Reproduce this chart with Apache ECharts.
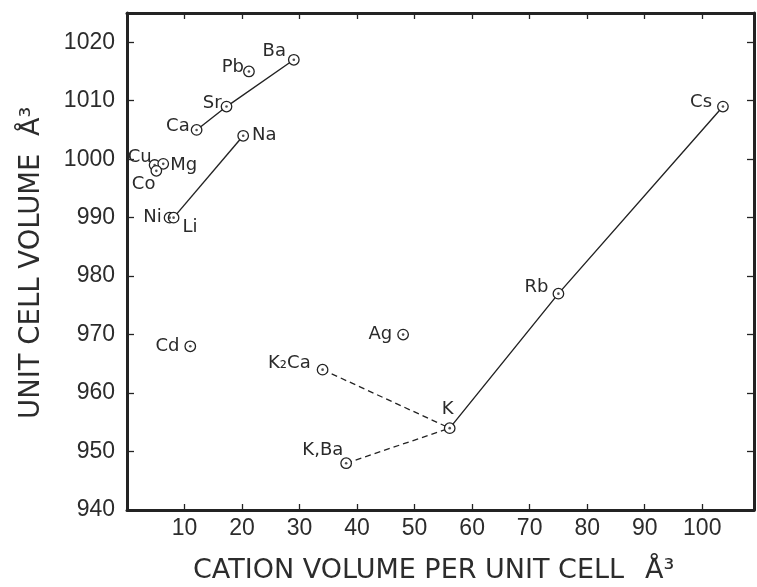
<!DOCTYPE html>
<html>
<head>
<meta charset="utf-8">
<script src="https://cdn.jsdelivr.net/npm/echarts@6/dist/echarts.min.js"></script>
<style>
html,body{margin:0;padding:0;background:#fff;}
#chart{width:757px;height:587px;}
</style>
</head>
<body>
<div id="chart"></div>
<script>
// ---- data ----
const names = ['Ba','Pb','Sr','Ca','Na','Cu','Mg','Co','Ni','Li','Cd','Ag','K₂Ca','K,Ba','K','Rb','Cs'];
const cationVolume = [29.0, 21.2, 17.3, 12.1, 20.2, 4.8, 6.3, 5.1, 7.4, 8.1, 11.0, 48.0, 34.0, 38.1, 56.1, 75.0, 103.6];
const cellVolume = [1017, 1015, 1009, 1005, 1004, 999.0, 999.2, 998.0, 990, 990, 968, 970, 964, 948, 954, 977, 1009];
const solidLinks = [['Ca','Sr','Ba'], ['Li','Na'], ['K','Rb','Cs']];
const dashedLinks = [['K₂Ca','K'], ['K,Ba','K']];
const xTicks = [10,20,30,40,50,60,70,80,90,100];
const yTicks = [940,950,960,970,980,990,1000,1010,1020];
const xTitle = 'CATION VOLUME PER UNIT CELL';
const yTitle = 'UNIT CELL VOLUME';
const unit = 'Å³';

// ---- label placement (styling) ----
const labelPlace = {
  'Ba':['left',[3,-8]], 'Pb':['left',[6,-4]], 'Sr':['left',[6,-3]], 'Ca':['left',[4,-4]],
  'Na':['right',[-2,0]], 'Cu':['left',[8,-8]], 'Mg':['right',[-4,1]], 'Co':['left',[10,13]],
  'Ni':['left',[3,0]], 'Li':['right',[-2,10]], 'Cd':['left',[0,0]], 'Ag':['left',[0,0]],
  'K₂Ca':['left',[-1,-6]], 'K,Ba':['left',[8,-13]], 'K':['top',[-2,1]], 'Rb':['left',[1,-6]],
  'Cs':['left',[0,-4]]
};

const INK = '#232323';
const FONT = '"Liberation Sans", Arial, sans-serif';
const TFONT = '"DejaVu Sans", sans-serif';
const idx = n => names.indexOf(n);
const pt = n => [cationVolume[idx(n)], cellVolume[idx(n)]];

const points = names.map((n,i) => ({
  name: n,
  value: [cationVolume[i], cellVolume[i]],
  label: {position: labelPlace[n][0], offset: labelPlace[n][1]}
}));

const lineSeries = [];
solidLinks.forEach(g => lineSeries.push({
  type:'line', data: g.map(pt), symbol:'none', silent:true, z:2,
  lineStyle:{color:INK, width:1.4}
}));
dashedLinks.forEach(g => lineSeries.push({
  type:'line', data: g.map(pt), symbol:'none', silent:true, z:2,
  lineStyle:{color:INK, width:1.3, type:[6,4]}
}));

const axisCommon = {
  type:'value', min:0, max:109, interval:10,
  splitLine:{show:false},
  axisLine:{show:true, onZero:false, lineStyle:{color:INK, width:3}},
  axisTick:{show:true, inside:true, length:6, lineStyle:{color:INK, width:1.3}},
};
const yCommon = {
  type:'value', min:940, max:1025, interval:10,
  splitLine:{show:false},
  axisLine:{show:true, onZero:false, lineStyle:{color:INK, width:3}},
  axisTick:{show:true, inside:true, length:7, lineStyle:{color:INK, width:1.3}},
};

const chart = echarts.init(document.getElementById('chart'), null, {renderer:'canvas'});
chart.setOption({
  animation:false,
  backgroundColor:'#fff',
  grid:{left:127, right:3, top:13, bottom:77},
  xAxis:[
    Object.assign({}, axisCommon, {position:'bottom',
      axisLabel:{show:true, margin:7, color:'#2c2c2c', fontFamily:FONT, fontSize:23,
        formatter: v => xTicks.includes(v) ? String(v) : ''}}),
    Object.assign({}, axisCommon, {position:'top', axisLabel:{show:false}})
  ],
  yAxis:[
    Object.assign({}, yCommon, {position:'left',
      axisLabel:{show:true, margin:12, color:'#2c2c2c', fontFamily:FONT, fontSize:23,
        formatter: v => yTicks.includes(v) ? String(v) : ''}}),
    Object.assign({}, yCommon, {position:'right', axisLabel:{show:false}})
  ],
  graphic:[
    {type:'text', x:193, y:557, style:{text:xTitle, font:'27px '+TFONT, fill:'#2c2c2c', textAlign:'left', textVerticalAlign:'top'}},
    {type:'text', x:645, y:557, style:{text:unit, font:'27px '+TFONT, fill:'#2c2c2c', textAlign:'left', textVerticalAlign:'top'}},
    {type:'text', x:18, y:419, rotation:Math.PI/2, style:{text:yTitle, font:'27.5px '+TFONT, fill:'#2c2c2c', textAlign:'left', textVerticalAlign:'top'}},
    {type:'text', x:18, y:136, rotation:Math.PI/2, style:{text:unit, font:'27px '+TFONT, fill:'#2c2c2c', textAlign:'left', textVerticalAlign:'top'}}
  ],
  series: lineSeries.concat([
    {type:'scatter', data:points, symbol:'circle', symbolSize:10.5, z:3,
      itemStyle:{color:'#fff', borderColor:INK, borderWidth:1.3, opacity:1},
      label:{show:true, formatter:'{b}', color:'#2a2a2a', fontFamily:TFONT, fontSize:18, distance:5}},
    {type:'scatter', data:points.map(p=>p.value), symbol:'circle', symbolSize:2.6, z:4, silent:true,
      itemStyle:{color:INK}}
  ])
});
</script>
</body>
</html>
